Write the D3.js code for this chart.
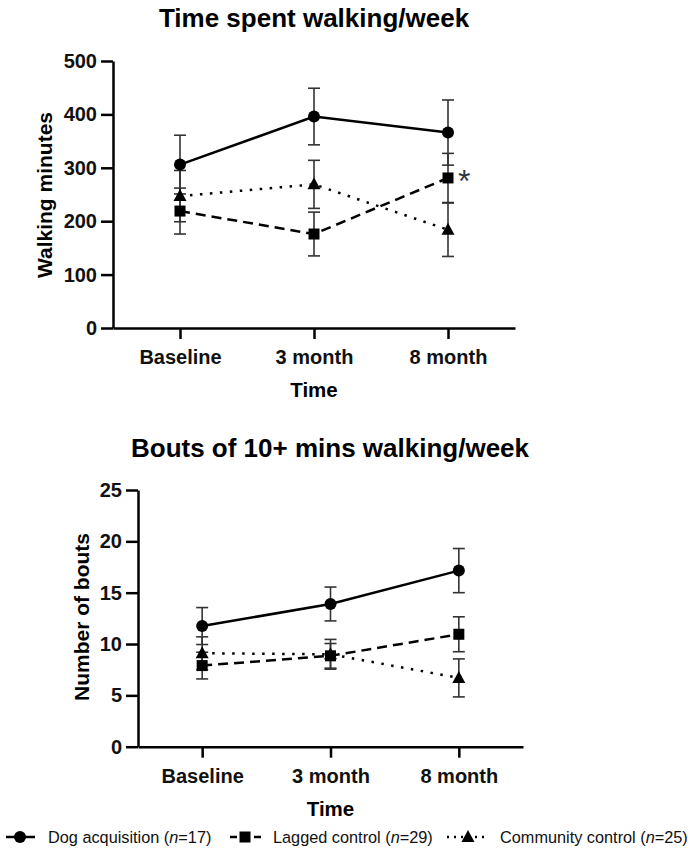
<!DOCTYPE html>
<html><head><meta charset="utf-8">
<script src="https://cdn.jsdelivr.net/npm/d3@7"></script>
<style>
body{margin:0;background:#fff;}
svg{display:block;font-family:"Liberation Sans",Arial,sans-serif;}
</style></head>
<body><svg id="c" width="688" height="853"></svg>
<script>
const timepoints = ["Baseline","3 month","8 month"];
const seriesNames = ["Dog acquisition","Lagged control","Community control"];
const seriesN = [17,29,25];
// Panel A: walking minutes per week
const minutesTicks = [0,100,200,300,400,500];
const minutesDog = [306,396,366];
const minutesDogErr = [55,53,61];
const minutesLagged = [219,176,281];
const minutesLaggedErr = [43,41,46];
const minutesCommunity = [247,269,184];
const minutesCommunityErr = [48,45,50];
// Panel B: bouts of 10+ mins walking per week
const boutsTicks = [0,5,10,15,20,25];
const boutsDog = [11.75,13.9,17.15];
const boutsDogErr = [1.8,1.65,2.15];
const boutsLagged = [7.9,8.85,10.95];
const boutsLaggedErr = [1.3,1.2,1.7];
const boutsCommunity = [9.1,9.0,6.7];
const boutsCommunityErr = [1.6,1.45,1.85];

const svg = d3.select("#c");
const styles = [
  {dash:null, marker:"circle"},
  {dash:"10,6", marker:"square"},
  {dash:"2.5,7.5", marker:"triangle"}
];
function drawMarker(g, type, x, y){
  if(type==="circle") g.append("circle").attr("cx",x).attr("cy",y).attr("r",6).attr("fill","#000");
  else if(type==="square") g.append("rect").attr("x",x-5.5).attr("y",y-5.5).attr("width",11).attr("height",11).attr("fill","#000");
  else g.append("path").attr("d",`M${x},${y-7}L${x+6.5},${y+5}L${x-6.5},${y+5}Z`).attr("fill","#000");
}

function panel(cfg){
  const g = svg.append("g");
  const x = d3.scalePoint().domain(timepoints).range([cfg.x0,cfg.x1]).padding(0.5);
  const y = d3.scaleLinear().domain([0,cfg.max]).range([cfg.yb,cfg.yt]);
  g.append("text").attr("x",cfg.tx).attr("y",cfg.ty).attr("text-anchor","middle")
    .attr("font-size",26).attr("font-weight","bold").text(cfg.title);
  const ya = g.append("g").attr("transform",`translate(${cfg.x0},0)`)
    .call(d3.axisLeft(y).tickValues(cfg.ticks).tickSize(12).tickSizeOuter(0).tickPadding(4));
  const xa = g.append("g").attr("transform",`translate(0,${cfg.yb})`)
    .call(d3.axisBottom(x).tickSize(11).tickSizeOuter(0).tickPadding(11));
  [ya,xa].forEach(a=>{
    a.selectAll("path,line").attr("stroke","#000").attr("stroke-width",2.5);
    a.selectAll("text").attr("font-size",20).attr("font-weight","bold").attr("fill","#111")
      .attr("font-family","Liberation Sans, Arial, sans-serif");
  });
  g.append("text").attr("x",(cfg.x0+cfg.x1)/2).attr("y",cfg.yb+69).attr("text-anchor","middle")
    .attr("font-size",20.5).attr("font-weight","bold").text("Time");
  g.append("text").attr("transform",`translate(${cfg.ylx},${cfg.yly}) rotate(-90)`)
    .attr("text-anchor","middle").attr("font-size",21).attr("font-weight","bold").text(cfg.ylabel);
  cfg.series.forEach((s,i)=>{
    const sg = g.append("g");
    s.v.forEach((v,j)=>{
      const cx = x(timepoints[j]);
      const lo = y(v - s.e[j]), hi = y(v + s.e[j]);
      sg.append("line").attr("x1",cx).attr("x2",cx).attr("y1",lo).attr("y2",hi).attr("stroke","#333").attr("stroke-width",1.6);
      [lo,hi].forEach(yy=>sg.append("line").attr("x1",cx-6).attr("x2",cx+6).attr("y1",yy).attr("y2",yy).attr("stroke","#333").attr("stroke-width",1.6));
    });
  });
  cfg.series.forEach((s,i)=>{
    const line = d3.line().x((d,j)=>x(timepoints[j])).y(d=>y(d));
    g.append("path").attr("d",line(s.v)).attr("fill","none").attr("stroke","#000")
      .attr("stroke-width",2.5).attr("stroke-dasharray",styles[i].dash)
      .attr("stroke-linecap","butt");
    s.v.forEach((v,j)=>drawMarker(g, styles[i].marker, x(timepoints[j]), y(v)));
  });
  return {x,y,g};
}

const A = panel({title:"Time spent walking/week", tx:314, ty:27, x0:113, x1:515, yb:328, yt:61, max:500,
  ticks:minutesTicks, ylabel:"Walking minutes", ylx:52, yly:195,
  series:[{v:minutesDog,e:minutesDogErr},{v:minutesLagged,e:minutesLaggedErr},{v:minutesCommunity,e:minutesCommunityErr}]});
A.g.append("text").attr("x",A.x("8 month")+10).attr("y",A.y(minutesLagged[2])+14)
  .attr("font-size",32).attr("fill","#2d3744").text("*");

panel({title:"Bouts of 10+ mins walking/week", tx:330, ty:457, x0:138, x1:523, yb:746.7, yt:490, max:25,
  ticks:boutsTicks, ylabel:"Number of bouts", ylx:89, yly:617,
  series:[{v:boutsDog,e:boutsDogErr},{v:boutsLagged,e:boutsLaggedErr},{v:boutsCommunity,e:boutsCommunityErr}]});

const leg = svg.append("g");
const legItems = [
  {x1:6,x2:35,mx:20,tx:48},
  {x1:230,x2:262,mx:245,tx:273},
  {x1:447,x2:489,mx:468,tx:500}
];
legItems.forEach((L,i)=>{
  const yy = 837;
  leg.append("line").attr("x1",L.x1).attr("x2",L.x2).attr("y1",yy).attr("y2",yy).attr("stroke","#000")
    .attr("stroke-width",2.5).attr("stroke-dasharray",i===0?null:(i===1?"7,5":"2,5"));
  drawMarker(leg, styles[i].marker, L.mx, yy);
  const t = leg.append("text").attr("x",L.tx).attr("y",843).attr("font-size",16.3).attr("fill","#111");
  t.append("tspan").text(seriesNames[i]+" (");
  t.append("tspan").attr("font-style","italic").text("n");
  t.append("tspan").text("="+seriesN[i]+")");
});
</script></body></html>
